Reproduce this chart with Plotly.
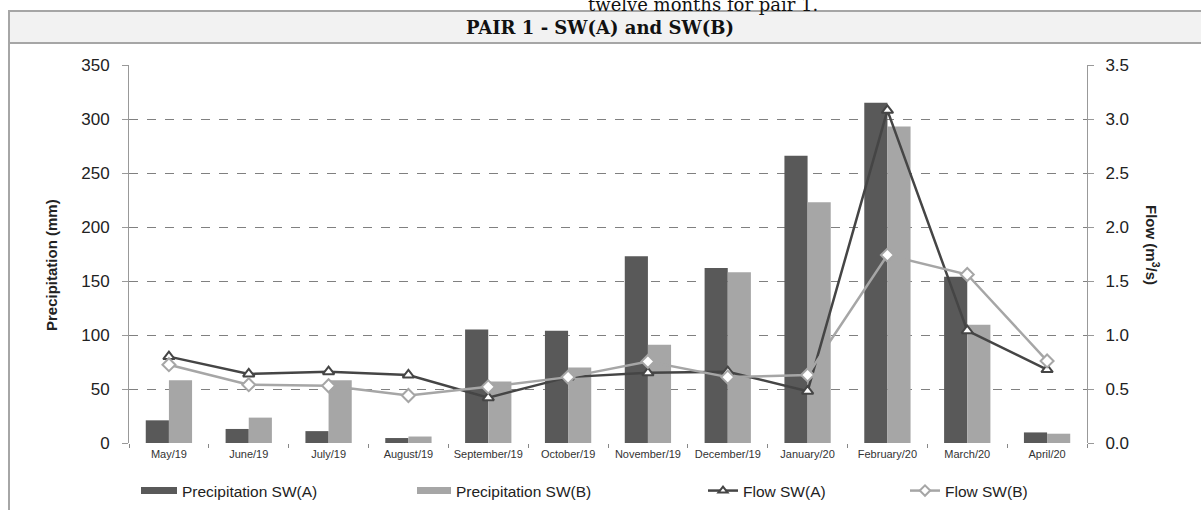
import plotly.graph_objects as go

months = ["May/19", "June/19", "July/19", "August/19", "September/19", "October/19",
          "November/19", "December/19", "January/20", "February/20", "March/20", "April/20"]
precip_a = [21, 13, 11, 4.6, 105, 104, 173, 162, 266, 315, 154, 9.8]
precip_b = [58, 23.5, 58, 6, 57, 70, 91, 158, 223, 293, 109.5, 8.6]
flow_a = [0.80, 0.64, 0.66, 0.63, 0.42, 0.61, 0.65, 0.66, 0.48, 3.08, 1.04, 0.68]
flow_b = [0.725, 0.54, 0.53, 0.44, 0.52, 0.61, 0.755, 0.61, 0.63, 1.74, 1.56, 0.76]

W, H = 1201, 510
L, R, T, B = 129, 1087, 65, 443

def px_x(p):
    return (p - L) / (R - L)

def px_y(p):
    return (B - p) / (B - T)

DARK = "#595959"
LIGHT = "#a6a6a6"
LINE_A = "#454545"
FONT = "Liberation Sans, Arial, sans-serif"
SERIF = "DejaVu Serif, Liberation Serif, serif"

fig = go.Figure()
fig.add_trace(go.Bar(x=months, y=precip_a, name="Precipitation SW(A)", marker_color=DARK,
                     marker_line_width=0, showlegend=False))
fig.add_trace(go.Bar(x=months, y=precip_b, name="Precipitation SW(B)", marker_color=LIGHT,
                     marker_line_width=0, showlegend=False))
fig.add_trace(go.Scatter(x=months, y=flow_a, name="Flow SW(A)", yaxis="y2", mode="lines+markers",
                         line=dict(color=LINE_A, width=2.5),
                         marker=dict(symbol="triangle-up", size=10, color="white",
                                     line=dict(color=LINE_A, width=2)),
                         showlegend=False))
fig.add_trace(go.Scatter(x=months, y=flow_b, name="Flow SW(B)", yaxis="y2", mode="lines+markers",
                         line=dict(color=LIGHT, width=2.5),
                         marker=dict(symbol="diamond", size=10, color="white",
                                     line=dict(color=LIGHT, width=2)),
                         showlegend=False))

# legend entries
fig.add_trace(go.Scatter(x=[None], y=[None], mode="lines", name="Precipitation SW(A)",
                         line=dict(color=DARK, width=7), legend="legend"))
fig.add_trace(go.Scatter(x=[None], y=[None], mode="lines", name="Precipitation SW(B)",
                         line=dict(color=LIGHT, width=7), legend="legend2"))
fig.add_trace(go.Scatter(x=[None], y=[None], mode="lines+markers", name="Flow SW(A)",
                         line=dict(color=LINE_A, width=2.5),
                         marker=dict(symbol="triangle-up", size=8, color="white",
                                     line=dict(color=LINE_A, width=2)), legend="legend3"))
fig.add_trace(go.Scatter(x=[None], y=[None], mode="lines+markers", name="Flow SW(B)",
                         line=dict(color=LIGHT, width=2.5),
                         marker=dict(symbol="diamond", size=8, color="white",
                                     line=dict(color=LIGHT, width=2)), legend="legend4"))

def leg(xpx, iw):
    return dict(orientation="h", yanchor="middle", xanchor="left",
                xref="container", yref="container", x=xpx / W, y=1 - 491 / H,
                font=dict(family=FONT, size=15.5, color="#222"), bgcolor="rgba(0,0,0,0)",
                itemwidth=iw)

grid = dict(showgrid=True, gridcolor="#808080", griddash="dash", gridwidth=1.3)

fig.update_layout(
    width=W, height=H,
    margin=dict(l=L, r=W - R, t=T, b=H - B, pad=0, autoexpand=False),
    paper_bgcolor="white", plot_bgcolor="white",
    barmode="group", bargap=0.42, bargroupgap=0,
    font=dict(family=FONT, color="#222"),
    xaxis=dict(type="category", range=[-0.5, 11.5], showline=False, ticks="outside",
               tickson="boundaries", ticklen=4, tickcolor="#888888", ticklabelstandoff=3,
               tickfont=dict(size=11, color="#333"), showgrid=False, zeroline=False),
    yaxis=dict(range=[0, 350], dtick=50, showline=True, linecolor="#999999", linewidth=1,
               ticks="outside", ticklen=6, tickcolor="#999999", ticklabelstandoff=9,
               tickfont=dict(size=17, color="#222"), zeroline=False, **grid),
    yaxis2=dict(range=[0, 3.5], dtick=0.5, tickformat=".1f", overlaying="y", side="right",
                showline=True, linecolor="#999999", linewidth=1, ticks="outside", ticklen=6,
                tickcolor="#999999", ticklabelstandoff=8, tickfont=dict(size=17, color="#222"),
                showgrid=False, zeroline=False),
    legend=leg(136, 36),
    legend2=leg(412, 34),
    legend3=leg(703, 30),
    legend4=leg(905, 30),
)

# frame and title band
fig.add_shape(type="line", xref="paper", yref="paper", x0=px_x(9), x1=px_x(9),
              y0=px_y(11), y1=px_y(515), line=dict(color="#a6a6a6", width=2), layer="below")
fig.add_shape(type="rect", xref="paper", yref="paper", x0=px_x(9), x1=px_x(1210),
              y0=px_y(43), y1=px_y(11), fillcolor="#f2f2f2",
              line=dict(color="#a6a6a6", width=2), layer="below")

fig.add_annotation(text="twelve months for pair 1.", xref="paper", yref="paper",
                   x=px_x(703), y=px_y(5), xanchor="center", yanchor="middle", showarrow=False,
                   font=dict(family=SERIF, size=18, color="#111"))
fig.add_annotation(text="<b>PAIR 1 - SW(A) and SW(B)</b>", xref="paper", yref="paper",
                   x=px_x(600), y=px_y(27), xanchor="center", yanchor="middle", showarrow=False,
                   font=dict(family=SERIF, size=18, color="#111"))
fig.add_annotation(text="<b>Precipitation (mm)</b>", xref="paper", yref="paper",
                   x=px_x(51), y=px_y(265), xanchor="center", yanchor="middle", showarrow=False,
                   textangle=-90, font=dict(family=FONT, size=15, color="#222"))
fig.add_annotation(text="<b>Flow (m<sup>3</sup>/s)</b>", xref="paper", yref="paper",
                   x=px_x(1153), y=px_y(245), xanchor="center", yanchor="middle", showarrow=False,
                   textangle=90, font=dict(family=FONT, size=15, color="#222"))

fig.write_html("out.html", config={"displayModeBar": False},
               post_script="document.body.style.margin='0px';")
